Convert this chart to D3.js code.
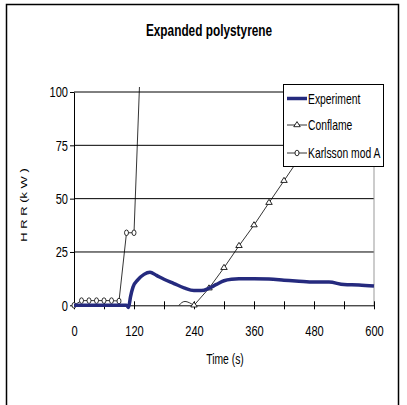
<!DOCTYPE html>
<html><head><meta charset="utf-8">
<script src="https://cdn.jsdelivr.net/npm/d3@7"></script>
<style>
html,body{margin:0;padding:0;background:#fff;}
svg text{font-family:"Liberation Sans",Arial,sans-serif;fill:#000;}
</style></head>
<body>
<svg id="c" width="407" height="405"></svg>
<script>
// ---- data ----
const title = "Expanded polystyrene";
const xLabel = "Time (s)";
const yLabel = "H R R  (k W )";
const seriesNames = ["Experiment", "Conflame", "Karlsson mod A"];
const xTicks = [0, 120, 240, 360, 480, 600];
const xMinorTicks = [0, 60, 120, 180, 240, 300, 360, 420, 480, 540, 600];
const yTicks = [0, 25, 50, 75, 100];

const expTime = [0, 100, 105, 109, 113, 118, 128, 140, 152, 165, 180, 200, 220, 240, 255, 270, 285, 300, 315, 330, 360, 390, 420, 450, 480, 510, 540, 570, 600];
const expHRR  = [0, 0, 0, -1, 4, 8.5, 12, 14.5, 15.5, 14, 12.2, 10.2, 8.2, 6.9, 6.9, 8, 9.8, 11.5, 12.2, 12.4, 12.4, 12.3, 11.8, 11.3, 10.9, 10.9, 9.7, 9.5, 9];

const conflameLeadTime = [210, 222, 240];
const conflameLeadHRR  = [0, 1.8, 0];
const conflameTime = [240, 270, 300, 330, 360, 390, 420, 450, 480, 510, 540];
const conflameHRR  = [0, 8, 17.6, 27.9, 37.6, 48.1, 58.4, 68.8, 79.2, 89.6, 100];

const karlssonTime = [0, 15, 30, 45, 60, 75, 90, 105, 120, 135];
const karlssonHRR  = [0, 2.2, 2.2, 2.2, 2.2, 2.2, 2.0, 34, 34, 128];

// ---- drawing ----
const SX = 0.74; // horizontal text compression
const svg = d3.select("#c");
const x = d3.scaleLinear().domain([0, 600]).range([74, 374]);
const y = d3.scaleLinear().domain([0, 100]).range([305.3, 92]);

function txt(g, tx, ty, s, size, anchor, weight, rot) {
  return g.append("text")
    .attr("transform", `translate(${tx},${ty}) scale(${SX},1)` + (rot ? ` rotate(${rot})` : ""))
    .attr("text-anchor", anchor).attr("font-size", size)
    .attr("font-weight", weight || "normal").text(s);
}

// outer frame
svg.append("rect").attr("x", 6.5).attr("y", 4.5).attr("width", 392).attr("height", 420)
  .attr("fill", "none").attr("stroke", "#000").attr("stroke-width", 1.5);

// gridlines
svg.append("g").selectAll("line").data(yTicks.filter(d => d > 0)).join("line")
  .attr("x1", x(0)).attr("x2", x(600)).attr("y1", d => y(d)).attr("y2", d => y(d))
  .attr("stroke", "#000").attr("stroke-width", 1);
// plot right border
svg.append("line").attr("x1", x(600)).attr("x2", x(600)).attr("y1", y(100)).attr("y2", y(0))
  .attr("stroke", "#999").attr("stroke-width", 1);

// y axis
const gy = svg.append("g").attr("transform", `translate(${x(0)},0)`)
  .call(d3.axisLeft(y).tickValues(yTicks).tickSize(4).tickPadding(2).tickSizeOuter(0));
gy.select(".domain").attr("stroke", "#000");
gy.selectAll("text").attr("font-size", 15).attr("transform", `scale(${SX},1)`)
  .attr("x", -6 / SX).attr("font-family", '"Liberation Sans",Arial,sans-serif');

// x axis
const gx = svg.append("g").attr("transform", `translate(0,${y(0)})`)
  .call(d3.axisBottom(x).tickValues(xMinorTicks).tickSize(4).tickFormat(d => xTicks.includes(d) ? d : "").tickSizeOuter(0));
gx.select(".domain").attr("stroke", "#000");
gx.selectAll(".tick line").attr("y1", -4).attr("y2", 4).attr("stroke", "#000");
gx.selectAll("text").attr("font-size", 15).attr("transform", `scale(${SX},1)`)
  .attr("y", 20).attr("font-family", '"Liberation Sans",Arial,sans-serif');

// clip
svg.append("clipPath").attr("id", "clip").append("rect")
  .attr("x", x(0) - 5).attr("y", y(102.3)).attr("width", x(600) - x(0) + 10).attr("height", y(-10) - y(102.3));
const plot = svg.append("g").attr("clip-path", "url(#clip)");

const line = d3.line().x(d => x(d[0])).y(d => y(d[1]));
const zip = (a, b) => a.map((v, i) => [v, b[i]]);

// Karlsson
plot.append("path").datum(zip(karlssonTime, karlssonHRR)).attr("d", line)
  .attr("fill", "none").attr("stroke", "#000").attr("stroke-width", 0.8);
plot.selectAll(".km").data(zip(karlssonTime, karlssonHRR).filter(d => d[1] < 100)).join("ellipse")
  .attr("cx", d => x(d[0])).attr("cy", d => y(d[1])).attr("rx", 2).attr("ry", 2.8)
  .attr("fill", "#fff").attr("stroke", "#000").attr("stroke-width", 0.8);

// Conflame
plot.append("path").datum(zip(conflameLeadTime, conflameLeadHRR)).attr("d", line.curve(d3.curveNatural))
  .attr("fill", "none").attr("stroke", "#000").attr("stroke-width", 0.8);
line.curve(d3.curveLinear);
plot.append("path").datum(zip(conflameTime, conflameHRR)).attr("d", line)
  .attr("fill", "none").attr("stroke", "#000").attr("stroke-width", 0.8);
const tri = d3.symbol().type(d3.symbolTriangle).size(15);
plot.selectAll(".cm").data(zip(conflameTime, conflameHRR)).join("path")
  .attr("transform", d => `translate(${x(d[0])},${y(d[1])}) scale(1.1,1)`).attr("d", tri)
  .attr("fill", "#fff").attr("stroke", "#000").attr("stroke-width", 0.8);

// Experiment
plot.append("path").datum(zip(expTime, expHRR)).attr("d", d3.line().x(d => x(d[0])).y(d => y(d[1])).curve(d3.curveMonotoneX))
  .attr("fill", "none").attr("stroke", "#252A7E").attr("stroke-width", 3.5).attr("stroke-linejoin", "round");

// legend
const lg = svg.append("g");
lg.append("rect").attr("x", 283.5).attr("y", 84.5).attr("width", 100).attr("height", 82)
  .attr("fill", "#fff").attr("stroke", "#000").attr("stroke-width", 1);
const ly = [98.5, 125, 153];
seriesNames.forEach((n, i) => {
  lg.append("line").attr("x1", 287).attr("x2", 307).attr("y1", ly[i]).attr("y2", ly[i])
    .attr("stroke", i === 0 ? "#252A7E" : "#000").attr("stroke-width", i === 0 ? 3.5 : 0.8);
  if (i === 1) lg.append("path").attr("transform", `translate(297,${ly[i]}) scale(1.1,1)`).attr("d", tri)
    .attr("fill", "#fff").attr("stroke", "#000").attr("stroke-width", 0.8);
  if (i === 2) lg.append("ellipse").attr("cx", 297).attr("cy", ly[i]).attr("rx", 2).attr("ry", 2.8)
    .attr("fill", "#fff").attr("stroke", "#000").attr("stroke-width", 0.8);
  txt(lg, 308, ly[i] + 5, n, 14, "start");
});

// titles
txt(svg, 209, 36, title, 16, "middle", "bold");
txt(svg, 225, 364, xLabel, 14, "middle");
txt(svg, 27, 205, yLabel, 13, "middle", "normal", -90);
</script>
</body></html>
